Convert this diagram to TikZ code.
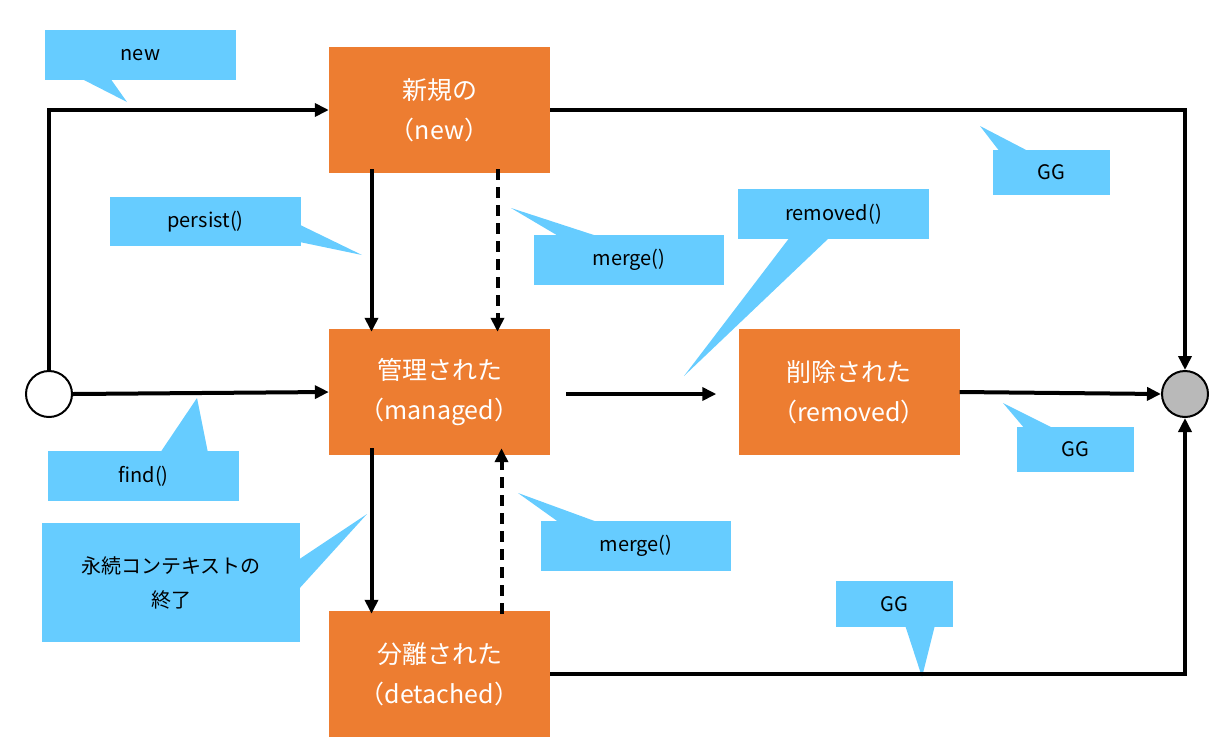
\documentclass[tikz,border=0pt]{standalone}
\usepackage{fontspec}
\setmainfont{Noto Sans CJK JP}
\usetikzlibrary{arrows.meta}
\definecolor{org}{HTML}{ED7D31}
\definecolor{cal}{HTML}{66CCFF}
\begin{document}
\begin{tikzpicture}[x=1pt,y=-1pt,
 state/.style={fill=org,text=white,minimum width=221pt,minimum height=126pt,align=center,font=\fontsize{25}{40}\selectfont,inner sep=0pt},
 lbl/.style={fill=cal,align=center,font=\fontsize{20}{34}\selectfont,inner sep=0pt},
 ln/.style={line width=4pt,-{Triangle[length=14pt,width=13pt]}},
 dsh/.style={ln,dash pattern=on 11pt off 7pt}]
\useasboundingbox (0,0) rectangle (1231,753);
% states
\node[state] (nw) at (439.5,110) {新規の\\（new）};
\node[state] (mg) at (439.5,392) {管理された\\（managed）};
\node[state] (rm) at (849,392) {削除された\\（removed）};
\node[state] (dt) at (439.5,674) {分離された\\（detached）};
\node[circle,draw,line width=2pt,fill=white,minimum size=46pt,inner sep=0pt] (st) at (49,394) {};
\node[circle,draw,line width=2pt,fill=gray!55,minimum size=46pt,inner sep=0pt] (en) at (1185,394) {};
% callouts
\fill[cal] (80,78) -- (127,102) -- (110,78) -- cycle;
\node[lbl,minimum width=191pt,minimum height=50pt] (c1) at (140.5,55) {new};
\fill[cal] (290,220) -- (362,255) -- (290,240) -- cycle;
\node[lbl,minimum width=191pt,minimum height=49pt] (c2) at (205.5,221.5) {persist()};
\fill[cal] (560,237) -- (511,208) -- (600,237) -- cycle;
\node[lbl,minimum width=190pt,minimum height=50pt] (c3) at (629,260) {merge()};
\fill[cal] (1000,152) -- (980,126) -- (1030,152) -- cycle;
\node[lbl,minimum width=117pt,minimum height=45pt] (c4) at (1051.5,172.5) {GG};
\fill[cal] (790,237) -- (684,376) -- (830,237) -- cycle;
\node[lbl,minimum width=191pt,minimum height=50pt] (c5) at (833.5,214) {removed()};
\fill[cal] (1025,429) -- (1003,403) -- (1055,429) -- cycle;
\node[lbl,minimum width=117pt,minimum height=45pt] (c6) at (1075.5,449.5) {GG};
\fill[cal] (160,453) -- (197,398) -- (208,453) -- cycle;
\node[lbl,minimum width=191pt,minimum height=50pt] (c7) at (143.5,476) {find()};
\fill[cal] (298,560) -- (367,514) -- (298,590) -- cycle;
\node[lbl,minimum width=258pt,minimum height=119pt] (c8) at (171,582.5) {永続コンテキストの\\終了};
\fill[cal] (560,523) -- (518,493) -- (600,523) -- cycle;
\node[lbl,minimum width=190pt,minimum height=50pt] (c9) at (636,546) {merge()};
\fill[cal] (905,625) -- (922,677) -- (935,625) -- cycle;
\node[lbl,minimum width=117pt,minimum height=46pt] (c10) at (894.5,604) {GG};
% connectors
\draw[ln] (st.north) |- (nw.west);
\draw[ln] (st.east) -- (mg.west);
\draw[ln] (nw.east) -| (en.north);
\draw[ln] (rm.east) -- (en.west);
\draw[ln] (dt.east) -| (en.south);
\draw[ln] ([xshift=-68pt,yshift=4pt]nw.south) -- ([xshift=-68pt,yshift=-3pt]mg.north);
\draw[dsh] ([xshift=58pt,yshift=4pt]nw.south) -- ([xshift=58pt,yshift=-3pt]mg.north);
\draw[ln] ([xshift=-68pt,yshift=7pt]mg.south) -- ([xshift=-68pt,yshift=-3pt]dt.north);
\draw[dsh] ([xshift=62pt,yshift=-3pt]dt.north) -- ([xshift=62pt,yshift=7pt]mg.south);
\draw[ln] ([xshift=16pt,yshift=-2pt]mg.east) -- ([xshift=-22pt,yshift=-2pt]rm.west);
\end{tikzpicture}
\end{document}
